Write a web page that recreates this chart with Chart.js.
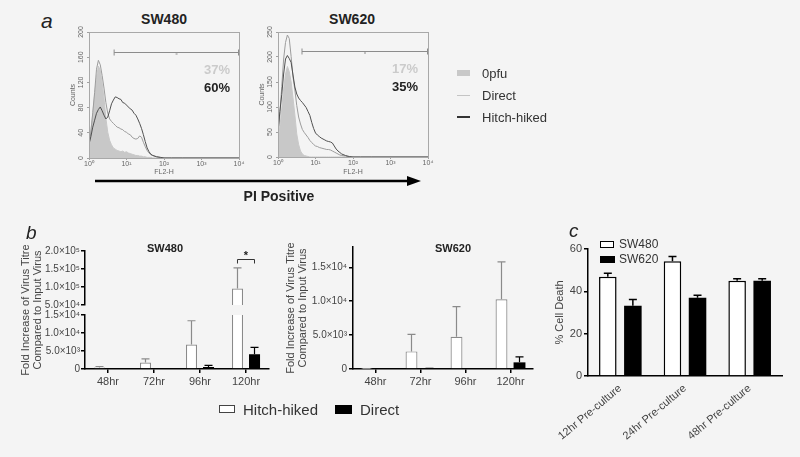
<!DOCTYPE html>
<html>
<head>
<meta charset="utf-8">
<script src="https://cdn.jsdelivr.net/npm/chart.js@4.4.1/dist/chart.umd.min.js"></script>
<style>
  html, body { margin: 0; padding: 0; background: #f4f4f4; }
  #fig { position: relative; width: 800px; height: 457px; overflow: hidden;
         font-family: "Liberation Sans", Arial, sans-serif; color: #333; }
  #fig canvas, #fig .t, #fig .sw, #fig svg { position: absolute; }
  .t { white-space: nowrap; line-height: 1; }
  .c { transform: translate(-50%, -50%); }
  .l { transform: translate(0, -50%); }
  .r { transform: translate(-100%, -50%); }
  .b { font-weight: bold; }
  .letter { font-style: italic; color: #222; }
</style>
</head>
<body>
<div id="fig">
  <!-- panel a -->
  <div class="t l letter" style="left:41px;top:20px;font-size:21px">a</div>
  <div class="t c b" style="left:164px;top:19px;font-size:14px;color:#222">SW480</div>
  <div class="t c b" style="left:352px;top:19px;font-size:14px;color:#222">SW620</div>
  <canvas id="h480" width="190" height="180" style="left:55px;top:10px"></canvas>
  <canvas id="h620" width="190" height="180" style="left:244px;top:10px"></canvas>
  <div class="t r b" style="left:230px;top:69px;font-size:13px;color:#cbcbcb">37%</div>
  <div class="t r b" style="left:230px;top:87px;font-size:13px;color:#222">60%</div>
  <div class="t r b" style="left:418px;top:68px;font-size:13px;color:#cbcbcb">17%</div>
  <div class="t r b" style="left:418px;top:86px;font-size:13px;color:#222">35%</div>
  <svg width="800" height="457" style="left:0;top:0;pointer-events:none">
    <line x1="95" y1="181" x2="410" y2="181" stroke="#000" stroke-width="2.5"/>
    <polygon points="407,176 421,181 407,186" fill="#000"/>
  </svg>
  <div class="t c b" style="left:279px;top:196px;font-size:14px;color:#222">PI Positive</div>
  <div class="sw" style="left:457px;top:70px;width:13px;height:6px;background:#c8c8c8"></div>
  <div class="t l" style="left:482px;top:73px;font-size:13px">0pfu</div>
  <div class="sw" style="left:457px;top:95px;width:13px;height:1px;background:#c4c4c4"></div>
  <div class="t l" style="left:482px;top:95px;font-size:13px">Direct</div>
  <div class="sw" style="left:457px;top:116px;width:13px;height:2px;background:#333"></div>
  <div class="t l" style="left:482px;top:117px;font-size:13px">Hitch-hiked</div>

  <!-- panel b -->
  <div class="t l letter" style="left:26px;top:232px;font-size:19px">b</div>
  <div class="t c b" style="left:165px;top:248px;font-size:11px;color:#222">SW480</div>
  <div class="t c b" style="left:453px;top:248px;font-size:11px;color:#222">SW620</div>
  <div class="t" style="left:31px;top:310px;font-size:11px;line-height:12px;color:#444;text-align:center;transform:translate(-50%,-50%) rotate(-90deg)">Fold Increase of Virus Titre<br>Compared to Input Virus</div>
  <canvas id="b480hi" width="280" height="73" style="left:0;top:240px"></canvas>
  <canvas id="b480lo" width="280" height="90" style="left:0;top:300px"></canvas>
  <canvas id="b620" width="270" height="152" style="left:270px;top:238px"></canvas>
  <div class="sw" style="left:219px;top:405px;width:14px;height:6px;border:1.2px solid #444;background:#fff"></div>
  <div class="t l" style="left:243px;top:409px;font-size:15px">Hitch-hiked</div>
  <div class="sw" style="left:335px;top:405px;width:17px;height:9px;background:#000"></div>
  <div class="t l" style="left:360px;top:409px;font-size:15px">Direct</div>

  <!-- panel c -->
  <div class="t l letter" style="left:569px;top:230px;font-size:19px">c</div>
  <canvas id="cDeath" width="275" height="219" style="left:520px;top:238px"></canvas>
  <div class="sw" style="left:600px;top:241px;width:12px;height:5px;border:1.5px solid #000;background:#fff"></div>
  <div class="t l" style="left:619px;top:244px;font-size:12px">SW480</div>
  <div class="sw" style="left:600px;top:256px;width:15px;height:7px;background:#000"></div>
  <div class="t l" style="left:619px;top:259px;font-size:12px">SW620</div>
</div>

<script>
// ---- panel a: PI histograms (x = FL2-H in log decades) ----
const fl2Decades = [0, 0.05, 0.1, 0.15, 0.2, 0.25, 0.3, 0.35, 0.4, 0.45, 0.5, 0.55, 0.6, 0.65, 0.7,
  0.75, 0.8, 0.85, 0.9, 0.95, 1.0, 1.05, 1.1, 1.15, 1.2, 1.25, 1.3, 1.35, 1.4, 1.45, 1.5, 1.55,
  1.6, 1.65, 1.7, 1.8, 1.9, 2.0, 2.2, 2.5, 4.0];
const sw480Mock = [24, 45, 70, 102, 128, 146, 139, 119, 95, 63, 41, 28, 21, 16, 14, 12, 11, 10, 11, 9,
  10, 8, 7, 6, 5, 4, 4, 3, 3, 2, 2, 1, 1, 1, 0, 0, 0, 0, 0, 0, 0];
const sw480Direct = [20, 41, 72, 104, 141, 155, 148, 131, 111, 88, 71, 62, 58, 55, 52, 49, 48, 46, 45, 42,
  41, 38, 37, 33, 31, 30, 31, 35, 33, 25, 18, 12, 8, 5, 4, 2, 1, 0, 0, 0, 0];
const sw480Hitch = [22, 34, 49, 60, 71, 77, 81, 75, 68, 62, 65, 75, 86, 92, 97, 96, 94, 93, 88, 87,
  84, 81, 78, 76, 71, 68, 62, 55, 47, 37, 26, 16, 10, 6, 4, 2, 1, 0, 0, 0, 0];
const sw620Mock = [32, 60, 96, 136, 166, 181, 171, 150, 118, 84, 46, 25, 12, 6, 3, 2, 1, 0, 0, 0,
  0, 0, 0, 0, 0, 0, 0, 0, 0, 0, 0, 0, 0, 0, 0, 0, 0, 0, 0, 0, 0];
const sw620Direct = [45, 86, 141, 196, 229, 244, 237, 201, 160, 134, 103, 80, 66, 55, 49, 44, 39, 33, 29, 25,
  22, 21, 19, 18, 17, 16, 15, 15, 14, 12, 10, 8, 6, 4, 3, 2, 0, 0, 0, 0, 0];
const sw620Hitch = [50, 91, 125, 166, 196, 203, 197, 189, 164, 140, 126, 118, 113, 109, 104, 99, 91, 83, 69, 57,
  48, 44, 41, 38, 36, 34, 32, 31, 30, 28, 22, 16, 12, 9, 6, 3, 1, 0, 0, 0, 0];
// gate: [from decade, to decade, counts level]
const gateSW480 = [0.67, 4, 168];
const gateSW620 = [0.64, 4, 212];

// ---- panel b: virus titre ----
const timepoints = ['48hr', '72hr', '96hr', '120hr'];
const titre480Hitch = [440, 1800, 6800, 95600];
const titre480HitchErr = [700, 2800, 13400, 153000];
const titre480Direct = [40, 30, 550, 4100];
const titre480DirectErr = [60, 50, 1000, 6000];
const titre620Hitch = [40, 2600, 4750, 10300];
const titre620HitchErr = [60, 5100, 9200, 15800];
const titre620Direct = [40, 60, 50, 980];
const titre620DirectErr = [60, 80, 70, 1780];
const titre620Ticks = [0, 5000, 10000, 15000];
const sig480 = [3, 178000]; // category index, bracket level

// ---- panel c: cell death ----
const precultures = ['12hr Pre-culture', '24hr Pre-culture', '48hr Pre-culture'];
const death480 = [46.9, 54.2, 45];
const death480Err = [48.5, 56.4, 46];
const death620 = [33.2, 37, 45];
const death620Err = [36.2, 38.1, 46];

Chart.defaults.font.family = '"Liberation Sans", Arial, sans-serif';
Chart.defaults.color = '#444';
Chart.defaults.animation = false;
Chart.defaults.plugins.legend.display = false;
Chart.defaults.plugins.tooltip.enabled = false;

const sup = ['⁰', '¹', '²', '³', '⁴', '⁵', '⁶', '⁷', '⁸', '⁹'];
function sci(v) {
  if (v === 0) return '0';
  const e = Math.floor(Math.log10(v) + 1e-9);
  return (v / Math.pow(10, e)).toFixed(1) + '×10' + sup[e];
}

const histFrame = {
  id: 'histFrame',
  afterDatasetsDraw(chart, args, opts) {
    const { ctx, chartArea: a, scales: { x, y } } = chart;
    ctx.save();
    ctx.strokeStyle = '#a8a8a8';
    ctx.lineWidth = 1;
    ctx.strokeRect(Math.round(a.left) + 0.5, Math.round(a.top) + 0.5, Math.round(a.width), Math.round(a.height));
    const [from, to, level] = opts.gate;
    const gy = Math.round(y.getPixelForValue(level)) + 0.5;
    const x1 = x.getPixelForValue(from), x2 = x.getPixelForValue(to);
    ctx.strokeStyle = '#8c8c8c';
    ctx.beginPath();
    ctx.moveTo(x1, gy); ctx.lineTo(x2, gy);
    ctx.moveTo(x1, gy - 3); ctx.lineTo(x1, gy + 3);
    ctx.moveTo(x2 - 0.5, gy - 3); ctx.lineTo(x2 - 0.5, gy + 3);
    const xm = (x1 + x2) / 2;
    ctx.moveTo(xm - 1, gy + 1.5); ctx.lineTo(xm + 1, gy + 1.5);
    ctx.stroke();
    ctx.restore();
  }
};

function histogram(id, mock, direct, hitch, yMax, yStep, gate, xHeight) {
  const pts = arr => fl2Decades.map((v, i) => ({ x: v, y: arr[i] }));
  const axisGrid = { drawOnChartArea: false, tickLength: 2, color: '#a0a0a0' };
  new Chart(document.getElementById(id), {
    type: 'line',
    data: {
      datasets: [
        { label: 'Hitch-hiked', data: pts(hitch), borderColor: '#505050', borderWidth: 1, order: 1 },
        { label: 'Direct', data: pts(direct), borderColor: '#9c9c9c', borderWidth: 1, order: 2 },
        { label: '0pfu', data: pts(mock), borderColor: '#c8c8c8', backgroundColor: '#c8c8c8',
          borderWidth: 1, fill: 'origin', order: 3 }
      ]
    },
    options: {
      responsive: false,
      layout: { padding: { top: 22, right: 6, left: 0, bottom: 0 } },
      elements: { point: { radius: 0 }, line: { tension: 0 } },
      plugins: { histFrame: { gate } },
      scales: {
        x: {
          type: 'linear', min: 0, max: 4,
          afterFit: s => { s.height = xHeight; },
          grid: axisGrid,
          border: { color: '#a8a8a8' },
          ticks: { stepSize: 1, font: { size: 7 }, color: '#666', padding: 0, maxRotation: 0,
                   callback: v => '10' + sup[v] },
          title: { display: true, text: 'FL2-H', font: { size: 7 }, color: '#666', padding: { top: 0, bottom: 14 } }
        },
        y: {
          min: 0, max: yMax,
          afterFit: s => { s.width = 34; },
          grid: axisGrid,
          border: { color: '#a8a8a8' },
          ticks: { stepSize: yStep, minRotation: 90, maxRotation: 90, crossAlign: 'center',
                   font: { size: 7 }, color: '#666', padding: 0 },
          title: { display: true, text: 'Counts', font: { size: 7 }, color: '#666', padding: { top: 14, bottom: 0 } }
        }
      }
    },
    plugins: [histFrame]
  });
}

histogram('h480', sw480Mock, sw480Direct, sw480Hitch, 200, 40, gateSW480, 32);
histogram('h620', sw620Mock, sw620Direct, sw620Hitch, 250, 50, gateSW620, 33);

// error bars (upper only, with cap), clipped to the plot area
const errorBars = {
  id: 'errorBars',
  afterDatasetsDraw(chart, args, opts) {
    const { ctx, chartArea: a } = chart;
    const y = chart.scales.y;
    ctx.save();
    ctx.beginPath();
    ctx.rect(a.left, a.top - 1, a.width, a.height + 1);
    ctx.clip();
    chart.data.datasets.forEach((ds, i) => {
      if (!ds.errTop) return;
      ctx.strokeStyle = ds.errColor;
      ctx.lineWidth = opts.width;
      chart.getDatasetMeta(i).data.forEach((bar, j) => {
        const top = y.getPixelForValue(ds.errTop[j]);
        ctx.beginPath();
        ctx.moveTo(bar.x, bar.y);
        ctx.lineTo(bar.x, top);
        ctx.moveTo(bar.x - opts.cap, top);
        ctx.lineTo(bar.x + opts.cap, top);
        ctx.stroke();
      });
    });
    ctx.restore();
  }
};

const sigBracket = {
  id: 'sigBracket',
  afterDatasetsDraw(chart, args, opts) {
    const { ctx } = chart;
    const [idx, level] = opts.at;
    const xa = chart.getDatasetMeta(0).data[idx].x;
    const xb = chart.getDatasetMeta(1).data[idx].x;
    const yy = Math.round(chart.scales.y.getPixelForValue(level)) + 0.5;
    ctx.save();
    ctx.strokeStyle = '#333';
    ctx.lineWidth = 1;
    ctx.beginPath();
    ctx.moveTo(xa, yy + 4); ctx.lineTo(xa, yy); ctx.lineTo(xb, yy); ctx.lineTo(xb, yy + 4);
    ctx.stroke();
    ctx.fillStyle = '#222';
    ctx.font = 'bold 11px "Liberation Sans", Arial, sans-serif';
    ctx.textAlign = 'center';
    ctx.textBaseline = 'middle';
    ctx.fillText('*', (xa + xb) / 2, yy - 4);
    ctx.restore();
  }
};

const blackGrid = { drawOnChartArea: false, tickLength: 4, color: '#000', lineWidth: 1.5, offset: false };
const blackBorder = { color: '#000', width: 1.5 };
const tickFont = { size: 11 };
const sciFont = { size: 10 };

function titreDatasets(hitch, hitchErr, direct, directErr) {
  return [
    { label: 'Hitch-hiked', data: hitch, errTop: hitchErr, errColor: '#8a8a8a',
      backgroundColor: '#ffffff', borderColor: '#8a8a8a', borderWidth: 1.2, clip: 0 },
    { label: 'Direct', data: direct, errTop: directErr, errColor: '#000',
      backgroundColor: '#000', borderColor: '#000', borderWidth: 0, clip: 0 }
  ];
}

// SW480 upper segment of the broken axis
new Chart(document.getElementById('b480hi'), {
  type: 'bar',
  data: { labels: timepoints, datasets: titreDatasets(titre480Hitch, titre480HitchErr, titre480Direct, titre480DirectErr) },
  options: {
    responsive: false,
    datasets: { bar: { categoryPercentage: 0.74, barPercentage: 0.65 } },
    layout: { padding: { top: 11, right: 11, left: 0, bottom: 8 } },
    plugins: { errorBars: { cap: 4, width: 1.2 }, sigBracket: { at: sig480 } },
    scales: {
      x: { display: false },
      y: {
        min: 50000, max: 200000,
        afterFit: s => { s.width = 85; },
        grid: blackGrid, border: blackBorder,
        ticks: { stepSize: 50000, callback: sci, font: sciFont, padding: 1 }
      }
    }
  },
  plugins: [errorBars, sigBracket]
});

// SW480 lower segment
new Chart(document.getElementById('b480lo'), {
  type: 'bar',
  data: { labels: timepoints, datasets: titreDatasets(titre480Hitch, titre480HitchErr, titre480Direct, titre480DirectErr) },
  options: {
    responsive: false,
    datasets: { bar: { categoryPercentage: 0.74, barPercentage: 0.65 } },
    layout: { padding: { top: 15, right: 11, left: 0, bottom: 0 } },
    plugins: { errorBars: { cap: 4, width: 1.2 } },
    scales: {
      x: {
        afterFit: s => { s.height = 21; },
        grid: blackGrid, border: blackBorder,
        ticks: { font: tickFont, padding: 2 }
      },
      y: {
        min: 0, max: 15000,
        afterFit: s => { s.width = 85; },
        grid: blackGrid, border: blackBorder,
        ticks: { stepSize: 5000, callback: sci, font: sciFont, padding: 1 }
      }
    }
  },
  plugins: [errorBars]
});

// SW620
new Chart(document.getElementById('b620'), {
  type: 'bar',
  data: { labels: timepoints, datasets: titreDatasets(titre620Hitch, titre620HitchErr, titre620Direct, titre620DirectErr) },
  options: {
    responsive: false,
    datasets: { bar: { categoryPercentage: 0.8, barPercentage: 0.66 } },
    layout: { padding: { top: 9, right: 7, left: 0, bottom: 0 } },
    plugins: { errorBars: { cap: 4, width: 1.2 } },
    scales: {
      x: {
        afterFit: s => { s.height = 21; },
        grid: blackGrid, border: blackBorder,
        ticks: { font: tickFont, padding: 2 }
      },
      y: {
        min: 0, max: 18000,
        afterFit: s => { s.width = 83; },
        afterBuildTicks: s => { s.ticks = titre620Ticks.map(v => ({ value: v })); },
        grid: blackGrid, border: blackBorder,
        ticks: { callback: sci, font: sciFont, padding: 2 },
        title: { display: true, text: ['Fold Increase of Virus Titre', 'Compared to Input Virus'],
                 font: { size: 11, lineHeight: 1.1 }, padding: { top: 15, bottom: 0 } }
      }
    }
  },
  plugins: [errorBars]
});

// panel c
new Chart(document.getElementById('cDeath'), {
  type: 'bar',
  data: {
    labels: precultures,
    datasets: [
      { label: 'SW480', data: death480, errTop: death480Err, errColor: '#000',
        backgroundColor: '#ffffff', borderColor: '#000', borderWidth: 1.5 },
      { label: 'SW620', data: death620, errTop: death620Err, errColor: '#000',
        backgroundColor: '#000', borderColor: '#000', borderWidth: 0 }
    ]
  },
  options: {
    responsive: false,
    datasets: { bar: { categoryPercentage: 0.775, barPercentage: 0.7 } },
    layout: { padding: { top: 11, right: 13, left: 0, bottom: 0 } },
    plugins: { errorBars: { cap: 4, width: 1.5 } },
    scales: {
      x: {
        afterFit: s => { s.height = 81; },
        grid: { drawOnChartArea: false, drawTicks: false },
        border: blackBorder,
        ticks: { font: tickFont, minRotation: 40, maxRotation: 40, padding: 6 }
      },
      y: {
        min: 0, max: 60,
        afterFit: s => { s.width = 68; },
        grid: blackGrid, border: blackBorder,
        ticks: { stepSize: 20, font: tickFont, padding: 2 },
        title: { display: true, text: '% Cell Death', font: { size: 11 }, padding: { top: 33, bottom: 0 } }
      }
    }
  },
  plugins: [errorBars]
});
</script>
</body>
</html>
